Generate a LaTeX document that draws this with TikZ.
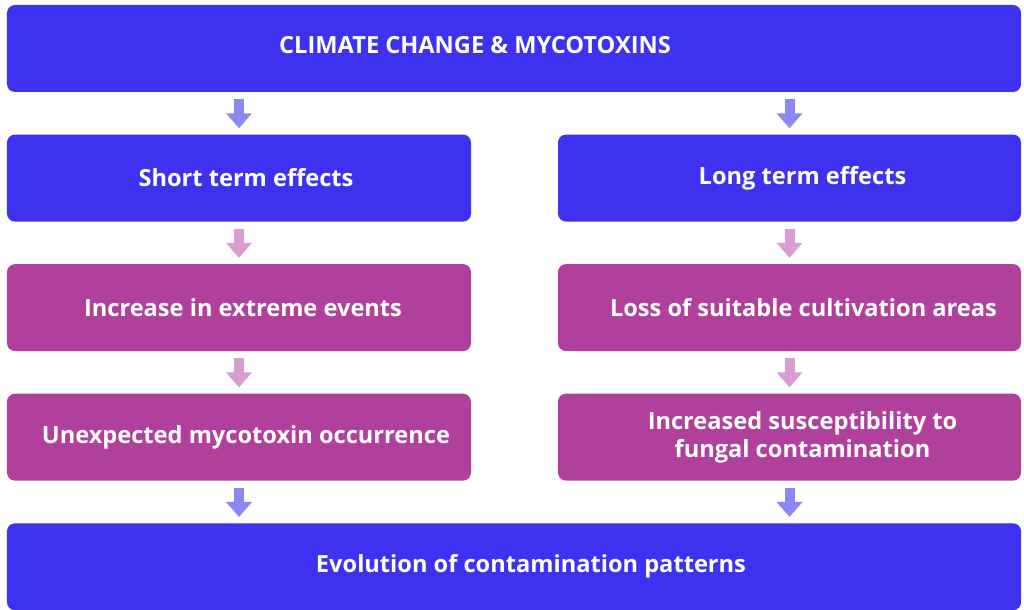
\documentclass[tikz,border=0pt]{standalone}
\usepackage{fontspec}
\setmainfont{Open Sans}
\usepackage{tikz}
\usetikzlibrary{arrows.meta,positioning}

\definecolor{boxblue}{HTML}{3D32F0}
\definecolor{boxplum}{HTML}{B0409B}
\definecolor{arrblue}{HTML}{8C88F3}
\definecolor{arrpink}{HTML}{D99DD2}

\begin{document}
\begin{tikzpicture}[
    node distance=1.05cm and 2.175cm,
    bluebox/.style={fill=boxblue, rounded corners=0.2cm, minimum height=2.175cm, inner sep=0pt},
    plumbox/.style={fill=boxplum, rounded corners=0.2cm, minimum height=2.175cm, inner sep=0pt},
    lbl/.style={text=white, font=\fontsize{16.8}{20}\selectfont\bfseries, align=center, inner sep=0pt},
    barrow/.style={draw=arrblue, line width=0.25cm, -{Triangle[width=0.625cm, length=0.375cm]}, shorten <=0.175cm, shorten >=0.15cm},
    parrow/.style={barrow, draw=arrpink}
  ]
    \useasboundingbox[fill=white] (0,0) rectangle (25.6,-15.25);

    % Top
    \node[bluebox, minimum width=25.35cm] (climate) at (12.85,-1.2125) {};
    \node[lbl] (climatelbl) at ([xshift=-0.975cm, yshift=0.08cm]climate.center) {CLIMATE CHANGE \& MYCOTOXINS};

    % Effects
    \node[bluebox, minimum width=11.6cm, below=1.05cm of climate.south west, anchor=north west] (short) {};
    \node[bluebox, minimum width=11.575cm, below=1.05cm of climate.south east, anchor=north east] (long) {};
    \node[lbl] (shortlbl) at ([xshift=0.175cm]short.center) {Short term effects};
    \node[lbl] (longlbl) at ([xshift=0.325cm]long.center) {Long term effects};

    % Consequences
    \node[plumbox, minimum width=11.6cm, below=of short] (extreme) {};
    \node[plumbox, minimum width=11.575cm, below=of long] (loss) {};
    \node[lbl] (extremelbl) at ([xshift=0.1cm]extreme.center) {Increase in extreme events};
    \node[lbl] (losslbl) at ([xshift=0.35cm]loss.center) {Loss of suitable cultivation areas};

    \node[plumbox, minimum width=11.6cm, below=of extreme] (unexp) {};
    \node[plumbox, minimum width=11.575cm, below=of loss] (suscept) {};
    \node[lbl] (unexplbl) at ([xshift=0.175cm]unexp.center) {Unexpected mycotoxin occurrence};
    \node[lbl] (susceptlbl) at ([xshift=0.325cm]suscept.center) {Increased susceptibility to\\fungal contamination};

    % Bottom
    \node[bluebox, minimum width=25.35cm, below=1.05cm of unexp.south west, anchor=north west] (evol) {};
    \node[lbl] (evollbl) at ([xshift=0.425cm]evol.center) {Evolution of contamination patterns};

    % Arrows
    \draw[barrow] (climate.south -| short.north) -- (short.north);
    \draw[barrow] (climate.south -| long.north) -- (long.north);
    \draw[parrow] (short) -- (extreme);
    \draw[parrow] (long) -- (loss);
    \draw[parrow] (extreme) -- (unexp);
    \draw[parrow] (loss) -- (suscept);
    \draw[barrow] (unexp.south) -- (evol.north -| unexp.south);
    \draw[barrow] (suscept.south) -- (evol.north -| suscept.south);
  \end{tikzpicture}
\end{document}
